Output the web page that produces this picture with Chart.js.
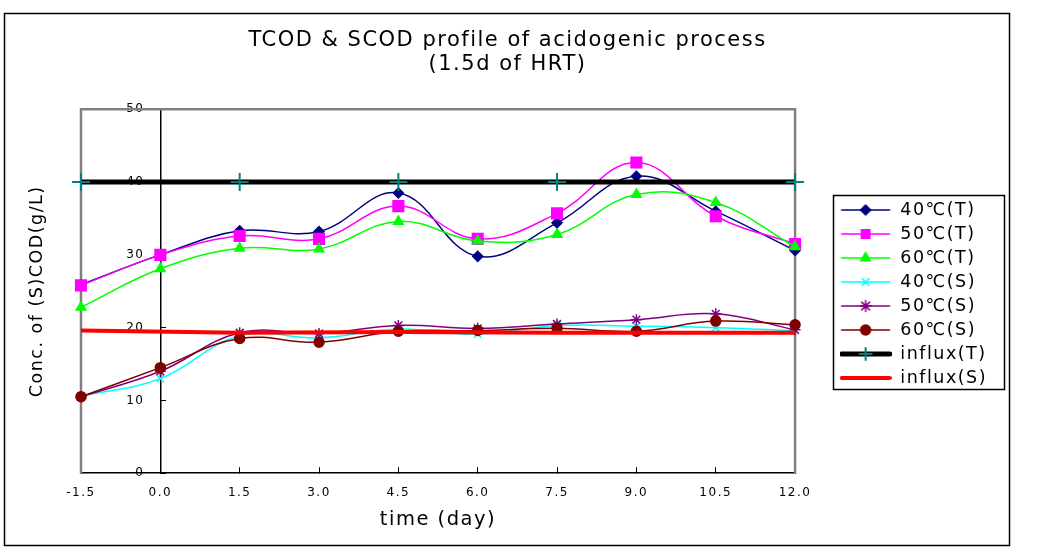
<!DOCTYPE html>
<html>
<head>
<meta charset="utf-8">
<script src="https://cdn.jsdelivr.net/npm/chart.js@4.4.1/dist/chart.umd.min.js"></script>
<style>
html,body{margin:0;padding:0;background:#fff;}
canvas{display:block;}
</style>
</head>
<body>
<canvas id="c" width="1040" height="555"></canvas>
<script>
// time axis (day)
const days = ['-1.5', '0.0', '1.5', '3.0', '4.5', '6.0', '7.5', '9.0', '10.5', '12.0'];

// TCOD
const t40 = [25.9, 30.0, 33.3, 33.2, 38.5, 29.8, 34.4, 40.8, 36.0, 30.6];
const t50 = [25.8, 30.0, 32.6, 32.2, 36.7, 32.2, 35.7, 42.7, 35.3, 31.5];
const t60 = [22.8, 28.1, 30.9, 30.8, 34.6, 31.9, 32.8, 38.3, 37.2, 31.1];

// SCOD
const s40 = [10.6, 13.0, 18.9, 18.6, 19.8, 19.1, 20.3, 20.2, 20.0, 19.6];
const s50 = [10.5, 14.0, 19.3, 19.2, 20.3, 19.9, 20.5, 21.1, 21.9, 19.7];
const s60 = [10.5, 14.5, 18.5, 18.0, 19.5, 19.6, 19.9, 19.5, 20.9, 20.4];

// influx, measured only on some days
const influxT = [40, null, 40, null, 40, null, 40, null, null, 40];
const influxS = [19.6, null, 19.3, null, 19.4, null, 19.3, null, null, 19.3];

const yTicks = [0, 10, 20, 30, 40, 50];

const FONT = "'DejaVu Sans', sans-serif";

function series(label, data, color, style, r, order) {
  return {
    label: label,
    data: data,
    borderColor: color,
    backgroundColor: color,
    borderWidth: 1.5,
    pointStyle: style,
    pointRadius: r,
    pointBorderWidth: 1.5,
    tension: 0.4,
    order: order
  };
}

const datasets = [
  series("40\u2103(T)", t40, "#000080", "rectRot", 5, 7),
  series("50\u2103(T)", t50, "#ff00ff", "rect", 7.5, 6),
  series("60\u2103(T)", t60, "#00ff00", "triangle", 5.5, 5),
  series("40\u2103(S)", s40, "#00ffff", "crossRot", 5, 4),
  series("50\u2103(S)", s50, "#800080", "star", 5.5, 3),
  series("60\u2103(S)", s60, "#800000", "circle", 5, 2),
  {
    label: "influx(T)", data: influxT, borderColor: "#000", backgroundColor: "#008080",
    pointBorderColor: "#008080", borderWidth: 5, pointStyle: "cross", pointRadius: 9,
    pointBorderWidth: 2, tension: 0, spanGaps: true, order: 1
  },
  {
    label: "influx(S)", data: influxS, borderColor: "#ff0000", backgroundColor: "#ff0000",
    borderWidth: 4, pointRadius: 0, tension: 0, spanGaps: true, order: 0
  }
];

// little line+marker picture for each legend entry
function sample(ds) {
  const c = document.createElement("canvas");
  c.width = 52;
  c.height = 18;
  const g = c.getContext("2d");
  g.strokeStyle = ds.borderColor;
  g.lineWidth = ds.borderWidth;
  g.lineCap = "round";
  g.beginPath();
  g.moveTo(2, 9);
  g.lineTo(50, 9);
  g.stroke();
  if (ds.pointRadius > 0) {
    g.fillStyle = ds.backgroundColor;
    g.strokeStyle = ds.pointBorderColor || ds.borderColor;
    g.lineWidth = ds.pointBorderWidth;
    Chart.helpers.drawPoint(g, {pointStyle: ds.pointStyle, radius: Math.min(ds.pointRadius, 6), borderWidth: ds.pointBorderWidth, rotation: 0}, 26, 9);
  }
  return c;
}

const framePlugin = {
  id: "frame",
  beforeUpdate(chart) { chart.ctx.letterSpacing = "1.5px"; },
  beforeDraw(chart) {
    const ctx = chart.ctx;
    ctx.letterSpacing = "1.5px";
    ctx.save();
    ctx.fillStyle = "#fff";
    ctx.fillRect(0, 0, chart.width, chart.height);
    ctx.strokeStyle = "#000";
    ctx.lineWidth = 1.5;
    ctx.strokeRect(4.5, 13.5, 1005, 532);
    ctx.restore();
  },
  beforeDatasetsDraw(chart) {
    const {ctx, chartArea: a} = chart;
    ctx.save();
    ctx.strokeStyle = "#808080";
    ctx.lineWidth = 2.5;
    ctx.beginPath();
    ctx.moveTo(a.left, a.bottom);
    ctx.lineTo(a.left, a.top);
    ctx.lineTo(a.right, a.top);
    ctx.lineTo(a.right, a.bottom);
    ctx.stroke();
    ctx.restore();
  },
  afterDraw(chart) {
    const hb = chart.legend.legendHitBoxes;
    if (!hb || !hb.length) return;
    const ctx = chart.ctx;
    const x0 = hb[0].left - 7;
    const x1 = Math.max(...hb.map(h => h.left + h.width)) + 17;
    const y0 = hb[0].top - 6;
    const last = hb[hb.length - 1];
    const y1 = last.top + last.height + 2;
    ctx.save();
    ctx.strokeStyle = "#000";
    ctx.lineWidth = 1.5;
    ctx.strokeRect(Math.round(x0) + 0.5, Math.round(y0) + 0.5, Math.round(x1 - x0), Math.round(y1 - y0));
    ctx.restore();
  }
};

new Chart(document.getElementById("c"), {
  type: "line",
  data: { labels: days, datasets: datasets },
  plugins: [framePlugin],
  options: {
    responsive: false,
    animation: false,
    layout: { padding: { left: 18, right: 43, top: 13, bottom: 22 } },
    plugins: {
      tooltip: { enabled: false },
      title: {
        display: true,
        text: ["TCOD & SCOD profile of acidogenic process", "(1.5d of HRT)"],
        color: "#000",
        font: { family: FONT, size: 21, weight: "normal", lineHeight: 1.15 },
        padding: { top: 15, bottom: 33 }
      },
      legend: {
        position: "right",
        maxWidth: 260,
        title: { display: true, text: " ", font: { family: FONT, size: 10, lineHeight: 1.2 }, padding: { top: 30, bottom: 0 } },
        labels: {
          usePointStyle: true,
          pointStyleWidth: 52,
          padding: 6.5,
          color: "#000",
          font: { family: FONT, size: 17.5 },
          sort: (a, b) => a.datasetIndex - b.datasetIndex,
          generateLabels: chart => chart.data.datasets.map((ds, i) => ({
            text: ds.label,
            pointStyle: sample(ds),
            datasetIndex: i,
            hidden: false,
            lineWidth: 0,
            strokeStyle: "transparent",
            fillStyle: "transparent",
            fontColor: "#000"
          }))
        }
      }
    },
    scales: {
      x: {
        type: "category",
        position: "bottom",
        offset: false,
        border: { color: "#000", width: 1.5 },
        grid: { display: true, drawOnChartArea: false, drawTicks: true, tickLength: -6, color: "#000", offset: false },
        ticks: { color: "#000", font: { family: FONT, size: 12 }, padding: 18, maxRotation: 0, autoSkip: false },
        title: { display: true, text: "time (day)", color: "#000", font: { family: FONT, size: 19.5 }, padding: { top: -9, bottom: 1 } }
      },
      y: {
        type: "linear",
        position: { x: 1 },
        min: 0,
        max: 50,
        afterBuildTicks: scale => { scale.ticks = yTicks.map(v => ({ value: v })); },
        border: { color: "#000", width: 1.5 },
        grid: { display: true, drawOnChartArea: false, drawTicks: true, tickLength: -6, color: "#000" },
        // labels sit left of the axis line with a gap
        ticks: { color: "#000", font: { family: FONT, size: 12 }, padding: 22, callback: v => v + "   " }
      },
      yL: {
        type: "linear",
        axis: "y",
        position: "left",
        min: 0,
        max: 50,
        border: { display: false },
        grid: { display: false },
        ticks: { display: false },
        title: { display: true, text: "Conc. of (S)COD(g/L)", color: "#000", font: { family: FONT, size: 17.5 }, padding: { top: 9, bottom: 0 } },
        afterFit: scale => { scale.width = 63; }
      },
      yR: {
        type: "linear",
        axis: "y",
        position: "right",
        min: 0,
        max: 50,
        border: { display: false },
        grid: { display: false },
        ticks: { display: false },
        afterFit: scale => { scale.width = 38; }
      }
    }
  }
});
</script>
</body>
</html>
